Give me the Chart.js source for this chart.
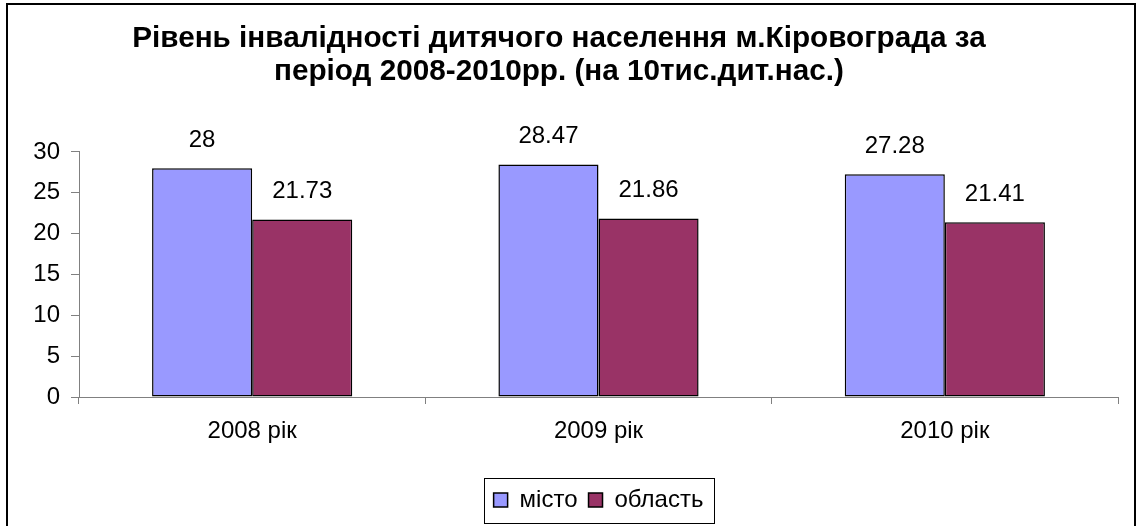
<!DOCTYPE html>
<html>
<head>
<meta charset="utf-8">
<script src="https://cdn.jsdelivr.net/npm/chart.js@4"></script>
<style>
  html, body { margin: 0; padding: 0; background: #fff; overflow: hidden; }
  #wrap { position: relative; width: 1137px; height: 526px; }
  #ramka { position: absolute; left: 6px; top: 3px; width: 1130px; height: 600px;
           border: 2px solid #000; box-sizing: border-box; pointer-events: none; }
</style>
</head>
<body>
<div id="wrap">
  <canvas id="grafik" width="1137" height="526"></canvas>
  <div id="ramka"></div>
</div>
<script>
// дані з діаграми
const roky = ['2008 рік', '2009 рік', '2010 рік'];
const misto = [28, 28.47, 27.28];
const oblast = [21.73, 21.86, 21.41];
const nazva = ['Рівень інвалідності дитячого населення м.Кіровограда за',
               'період 2008-2010рр. (на 10тис.дит.нас.)'];

const shryft = 'Arial, "Liberation Sans", sans-serif';

// підписи значень над стовпчиками
const pidpysy = {
  id: 'pidpysy',
  afterDatasetsDraw(chart) {
    const ctx = chart.ctx;
    ctx.save();
    ctx.font = '24px ' + shryft;
    ctx.fillStyle = '#000';
    ctx.textAlign = 'center';
    ctx.textBaseline = 'middle';
    chart.data.datasets.forEach(function (ds, i) {
      chart.getDatasetMeta(i).data.forEach(function (bar, j) {
        ctx.fillText(String(ds.data[j]), bar.x, bar.y - 28);
      });
    });
    ctx.restore();
  }
};

// рамка навколо легенди
const ramkaLegendy = {
  id: 'ramkaLegendy',
  afterDraw(chart) {
    const boxes = chart.legend.legendHitBoxes;
    if (!boxes || !boxes.length) return;
    const ctx = chart.ctx;
    let left = boxes[0].left, right = boxes[0].left + boxes[0].width;
    boxes.forEach(function (b) {
      left = Math.min(left, b.left);
      right = Math.max(right, b.left + b.width);
    });
    const cy = boxes[0].top + boxes[0].height / 2;
    ctx.save();
    ctx.strokeStyle = '#000';
    ctx.lineWidth = 1;
    ctx.strokeRect(Math.round(left - 10) + 0.5, Math.round(cy - 22.5) + 0.5,
                   Math.round(right - left + 20), 45);
    ctx.restore();
  }
};

const config = {
  type: 'bar',
  data: {
    labels: roky,
    datasets: [{
      label: 'місто',
      data: misto,
      backgroundColor: '#9999FF',
      borderColor: '#000',
      borderWidth: 1.5,
      borderSkipped: false
    }, {
      label: 'область',
      data: oblast,
      backgroundColor: '#993366',
      borderColor: '#000',
      borderWidth: 1.5,
      borderSkipped: false
    }]
  },
  options: {
    responsive: false,
    animation: false,
    datasets: { bar: { categoryPercentage: 0.578, barPercentage: 1 } },
    layout: { padding: { left: 0, right: 19, top: 6, bottom: 4 } },
    plugins: {
      title: {
        display: true,
        text: nazva,
        color: '#000',
        font: { family: shryft, size: 29.7, weight: 'bold', lineHeight: 1.111 },
        padding: { top: 16, bottom: 64 }
      },
      legend: {
        position: 'bottom',
        fullSize: false,
        labels: {
          color: '#000',
          font: { family: shryft, size: 24 },
          boxWidth: 14,
          boxHeight: 14,
          padding: 11
        }
      },
      tooltip: { enabled: false }
    },
    scales: {
      x: {
        afterFit: function (scale) { scale.height = 80; },
        grid: { offset: true, drawOnChartArea: false, color: '#808080', tickLength: 7 },
        border: { color: '#808080' },
        ticks: { color: '#000', font: { family: shryft, size: 24 }, padding: 13 }
      },
      y: {
        min: 0,
        max: 30,
        afterFit: function (scale) { scale.width = 79; },
        grid: { drawOnChartArea: false, color: '#808080', tickLength: 8 },
        border: { color: '#808080' },
        ticks: { stepSize: 5, color: '#000', font: { family: shryft, size: 24 }, padding: 11 }
      }
    }
  },
  plugins: [pidpysy, ramkaLegendy]
};

new Chart(document.getElementById('grafik'), config);
</script>
</body>
</html>
